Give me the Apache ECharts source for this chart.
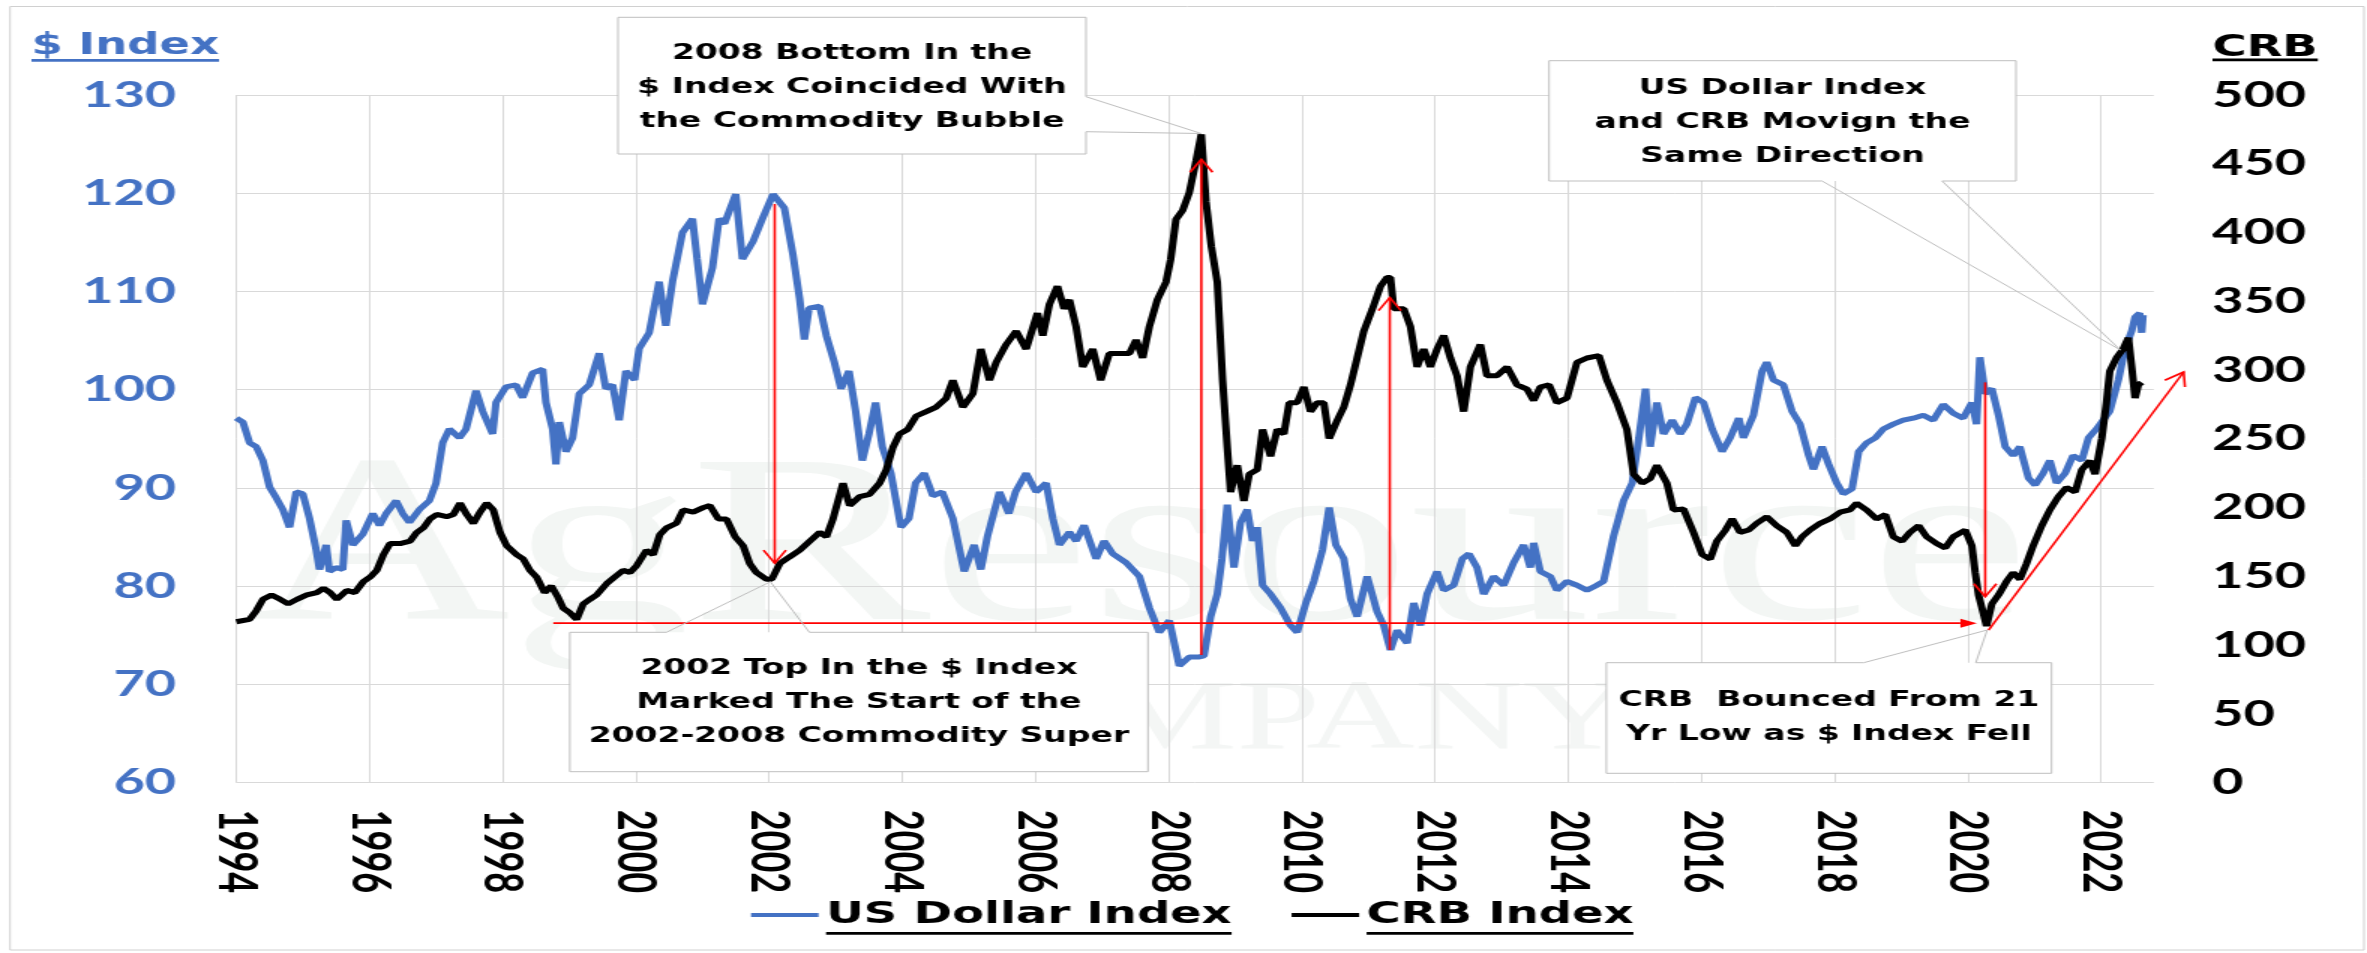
<!DOCTYPE html>
<html lang="en" style="background: #FFFFFF; height: 100%">
<head>
  <meta charset="utf-8" />
  <title>US Dollar Index vs CRB Index</title>
  <script src="https://cdn.jsdelivr.net/npm/echarts@6.0.0/dist/echarts.min.js"></script>
</head>
<body style="margin: 0; overflow: hidden; background: #FFFFFF">
<!-- the source picture is stretched sideways, so the chart is drawn narrow and widened -->
<div id="chart" style="width: 1578px; height: 953px; transform: scaleX(1.5); transform-origin: 0 0"></div>
<script>
// US Dollar Index (left axis)
const usdYears = [
  1994.00, 1994.10, 1994.20, 1994.30, 1994.40, 1994.50, 1994.60, 1994.70, 1994.80, 1994.90,
  1995.00, 1995.10, 1995.20, 1995.25, 1995.35, 1995.40, 1995.50, 1995.60, 1995.65, 1995.75,
  1995.90, 1996.05, 1996.15, 1996.25, 1996.40, 1996.50, 1996.60, 1996.75, 1996.90, 1997.00,
  1997.10, 1997.20, 1997.35, 1997.45, 1997.60, 1997.70, 1997.85, 1997.90, 1998.05, 1998.20,
  1998.30, 1998.45, 1998.60, 1998.65, 1998.75, 1998.80, 1998.85, 1998.95, 1999.05, 1999.15,
  1999.30, 1999.45, 1999.55, 1999.65, 1999.75, 1999.85, 1999.98, 2000.05, 2000.20, 2000.35,
  2000.45, 2000.55, 2000.70, 2000.85, 2000.92, 2001.00, 2001.15, 2001.25, 2001.33, 2001.50,
  2001.60, 2001.76, 2001.90, 2002.06, 2002.23, 2002.36, 2002.46, 2002.53, 2002.60, 2002.76,
  2002.86, 2002.98, 2003.08, 2003.20, 2003.30, 2003.40, 2003.50, 2003.60, 2003.70, 2003.83,
  2003.98, 2004.10, 2004.20, 2004.33, 2004.46, 2004.60, 2004.76, 2004.93, 2005.08, 2005.18,
  2005.28, 2005.46, 2005.60, 2005.70, 2005.86, 2006.01, 2006.16, 2006.26, 2006.36, 2006.51,
  2006.61, 2006.73, 2006.91, 2007.03, 2007.16, 2007.36, 2007.56, 2007.71, 2007.86, 2008.01,
  2008.16, 2008.31, 2008.46, 2008.53, 2008.63, 2008.73, 2008.80, 2008.88, 2008.98, 2009.08,
  2009.18, 2009.26, 2009.33, 2009.41, 2009.53, 2009.68, 2009.83, 2009.93, 2010.06, 2010.18,
  2010.31, 2010.41, 2010.51, 2010.63, 2010.73, 2010.83, 2010.98, 2011.13, 2011.23, 2011.33,
  2011.43, 2011.58, 2011.68, 2011.78, 2011.88, 2012.03, 2012.13, 2012.28, 2012.41, 2012.51,
  2012.63, 2012.73, 2012.88, 2013.03, 2013.18, 2013.33, 2013.43, 2013.48, 2013.58, 2013.73,
  2013.83, 2013.98, 2014.13, 2014.28, 2014.43, 2014.53, 2014.68, 2014.83, 2014.96, 2015.06,
  2015.16, 2015.23, 2015.33, 2015.43, 2015.56, 2015.68, 2015.78, 2015.91, 2016.03, 2016.16,
  2016.31, 2016.43, 2016.56, 2016.63, 2016.78, 2016.91, 2016.98, 2017.08, 2017.23, 2017.36,
  2017.48, 2017.61, 2017.68, 2017.81, 2017.91, 2018.03, 2018.13, 2018.26, 2018.36, 2018.48,
  2018.61, 2018.73, 2018.88, 2019.03, 2019.18, 2019.33, 2019.48, 2019.63, 2019.78, 2019.93,
  2020.06, 2020.13, 2020.18, 2020.26, 2020.36, 2020.46, 2020.56, 2020.68, 2020.78, 2020.91,
  2021.01, 2021.13, 2021.23, 2021.33, 2021.46, 2021.58, 2021.71, 2021.81, 2021.93, 2022.03,
  2022.13, 2022.26, 2022.36, 2022.46, 2022.51, 2022.58, 2022.61, 2022.63
];
const usdValues = [
  97.1, 96.7, 94.6, 94.2, 92.8, 90.1, 89.0, 87.8, 86.0, 89.6,
  89.4, 86.9, 83.7, 81.7, 84.2, 81.5, 81.9, 81.7, 86.7, 84.2,
  85.3, 87.4, 86.2, 87.4, 88.7, 87.4, 86.5, 87.8, 88.7, 90.5,
  94.6, 96.0, 95.1, 96.0, 99.9, 97.8, 95.5, 98.7, 100.3, 100.5,
  99.2, 101.7, 102.1, 98.7, 96.0, 92.4, 96.7, 93.7, 95.1, 99.6,
  100.5, 103.7, 100.1, 100.5, 96.9, 101.9, 101.0, 104.2, 105.8, 111.0,
  106.5, 111.0, 116.0, 117.4, 113.3, 108.7, 112.4, 117.4, 116.9, 119.9,
  113.3, 115.1, 117.4, 119.9, 118.5, 113.7, 109.2, 105.1, 108.3, 108.5,
  105.5, 102.8, 100.1, 101.9, 97.8, 92.8, 95.5, 98.7, 94.2, 91.5,
  86.0, 86.9, 90.5, 91.5, 89.2, 89.6, 86.9, 81.5, 84.2, 81.7,
  85.1, 89.6, 87.4, 89.6, 91.5, 89.6, 90.5, 86.9, 84.2, 85.5,
  84.6, 86.2, 82.8, 84.6, 83.3, 82.4, 81.0, 77.8, 75.3, 76.5,
  71.9, 72.8, 72.8, 72.9, 76.9, 79.2, 82.8, 88.3, 81.9, 86.5,
  87.8, 84.6, 86.0, 80.1, 79.2, 77.8, 76.0, 75.3, 78.3, 80.5,
  83.7, 88.0, 84.2, 82.8, 78.7, 76.9, 81.0, 77.4, 76.0, 73.5,
  75.5, 74.2, 78.3, 76.0, 79.2, 81.5, 79.6, 80.1, 82.8, 83.3,
  81.9, 79.2, 81.0, 80.1, 82.4, 84.2, 81.9, 84.4, 81.5, 81.0,
  79.6, 80.5, 80.1, 79.6, 80.1, 80.5, 85.1, 88.7, 90.5, 95.1,
  100.1, 94.2, 98.7, 95.5, 96.9, 95.5, 96.5, 99.2, 98.7, 96.0,
  93.7, 95.1, 97.1, 95.1, 97.4, 101.9, 102.8, 101.0, 100.5, 97.8,
  96.5, 93.3, 91.9, 94.2, 92.4, 90.5, 89.4, 89.9, 93.7, 94.6,
  95.1, 96.0, 96.5, 96.9, 97.1, 97.4, 96.9, 98.5, 97.6, 97.1,
  98.7, 96.5, 103.3, 99.6, 100.1, 97.4, 94.2, 93.3, 94.2, 91.0,
  90.3, 91.5, 92.8, 90.5, 91.5, 93.3, 92.8, 95.1, 96.0, 96.9,
  97.8, 101.0, 104.2, 106.0, 107.4, 107.8, 105.8, 107.6
];

// CRB Index (right axis)
const crbYears = [
  1994.00, 1994.20, 1994.30, 1994.40, 1994.53, 1994.66, 1994.78, 1994.91, 1995.06, 1995.21,
  1995.31, 1995.41, 1995.51, 1995.66, 1995.78, 1995.91, 1996.01, 1996.11, 1996.21, 1996.31,
  1996.46, 1996.61, 1996.71, 1996.81, 1996.91, 1997.01, 1997.16, 1997.26, 1997.36, 1997.46,
  1997.56, 1997.66, 1997.76, 1997.86, 1997.96, 1998.06, 1998.21, 1998.31, 1998.41, 1998.51,
  1998.63, 1998.73, 1998.83, 1998.91, 1999.01, 1999.11, 1999.21, 1999.31, 1999.41, 1999.56,
  1999.68, 1999.81, 1999.91, 2000.01, 2000.16, 2000.26, 2000.36, 2000.46, 2000.61, 2000.71,
  2000.86, 2001.01, 2001.11, 2001.24, 2001.36, 2001.49, 2001.61, 2001.71, 2001.81, 2001.96,
  2002.04, 2002.16, 2002.31, 2002.46, 2002.61, 2002.76, 2002.86, 2002.96, 2003.11, 2003.21,
  2003.36, 2003.51, 2003.66, 2003.76, 2003.86, 2003.96, 2004.08, 2004.21, 2004.36, 2004.51,
  2004.66, 2004.76, 2004.91, 2005.06, 2005.18, 2005.31, 2005.41, 2005.56, 2005.71, 2005.86,
  2006.03, 2006.11, 2006.21, 2006.33, 2006.43, 2006.51, 2006.61, 2006.71, 2006.86, 2006.98,
  2007.11, 2007.26, 2007.41, 2007.51, 2007.61, 2007.71, 2007.83, 2007.96, 2008.03, 2008.11,
  2008.21, 2008.31, 2008.41, 2008.49, 2008.56, 2008.64, 2008.73, 2008.81, 2008.88, 2008.93,
  2009.03, 2009.13, 2009.21, 2009.33, 2009.41, 2009.53, 2009.63, 2009.73, 2009.81, 2009.93,
  2010.03, 2010.13, 2010.23, 2010.33, 2010.41, 2010.53, 2010.63, 2010.73, 2010.83, 2010.93,
  2011.06, 2011.18, 2011.28, 2011.33, 2011.38, 2011.53, 2011.63, 2011.73, 2011.83, 2011.93,
  2012.03, 2012.13, 2012.23, 2012.33, 2012.43, 2012.53, 2012.68, 2012.78, 2012.93, 2013.08,
  2013.23, 2013.38, 2013.48, 2013.58, 2013.71, 2013.83, 2013.98, 2014.13, 2014.28, 2014.46,
  2014.58, 2014.73, 2014.88, 2014.98, 2015.11, 2015.23, 2015.33, 2015.48, 2015.58, 2015.73,
  2015.88, 2016.01, 2016.13, 2016.23, 2016.36, 2016.46, 2016.58, 2016.71, 2016.83, 2016.98,
  2017.13, 2017.28, 2017.41, 2017.51, 2017.63, 2017.78, 2017.93, 2018.08, 2018.23, 2018.33,
  2018.48, 2018.63, 2018.76, 2018.88, 2019.01, 2019.13, 2019.26, 2019.38, 2019.53, 2019.66,
  2019.78, 2019.96, 2020.06, 2020.11, 2020.16, 2020.23, 2020.28, 2020.36, 2020.46, 2020.58,
  2020.68, 2020.78, 2020.88, 2020.98, 2021.11, 2021.23, 2021.36, 2021.48, 2021.61, 2021.71,
  2021.83, 2021.91, 2022.01, 2022.08, 2022.13, 2022.23, 2022.33, 2022.41, 2022.46, 2022.51,
  2022.56, 2022.61
];
const crbValues = [
  117.0, 118.7, 125.0, 133.3, 136.5, 133.3, 130.0, 133.3, 136.5, 138.2,
  141.4, 138.2, 133.3, 139.8, 138.2, 146.3, 149.5, 154.4, 165.8, 173.9,
  173.9, 175.6, 182.0, 185.3, 191.8, 195.0, 193.4, 195.0, 203.2, 195.0,
  188.6, 196.7, 203.2, 198.3, 182.0, 172.3, 165.8, 162.6, 154.4, 149.5,
  138.2, 143.0, 134.9, 126.8, 123.5, 118.7, 130.0, 133.3, 136.5, 144.7,
  149.5, 154.4, 152.8, 157.7, 169.0, 165.8, 180.4, 185.3, 188.6, 198.3,
  196.7, 200.0, 201.6, 191.8, 191.8, 178.8, 172.3, 159.3, 152.8, 147.9,
  147.9, 159.3, 164.2, 169.0, 175.6, 182.0, 178.8, 191.8, 217.8, 201.6,
  208.0, 209.7, 217.8, 227.6, 243.8, 253.6, 256.8, 266.6, 269.8, 273.1,
  279.6, 292.6, 273.1, 282.8, 315.3, 292.6, 305.6, 318.6, 328.4, 315.3,
  341.4, 325.1, 347.9, 360.9, 344.6, 351.1, 331.6, 302.3, 315.3, 292.6,
  312.1, 312.1, 312.1, 321.9, 308.8, 331.6, 351.1, 364.1, 380.4, 409.6,
  416.1, 429.1, 451.9, 471.4, 422.6, 390.1, 364.1, 292.6, 243.8, 211.3,
  230.8, 204.8, 224.3, 227.6, 256.8, 237.3, 256.8, 253.6, 276.3, 276.3,
  287.7, 269.8, 276.3, 276.3, 250.3, 263.3, 273.1, 289.3, 308.8, 328.4,
  344.6, 360.9, 367.4, 367.4, 344.6, 344.6, 331.6, 302.3, 315.3, 302.3,
  315.3, 325.1, 308.8, 295.8, 269.8, 302.3, 318.6, 295.8, 295.8, 302.3,
  289.3, 286.1, 277.9, 287.7, 289.3, 276.3, 279.6, 305.6, 308.8, 310.5,
  292.6, 276.3, 256.8, 224.3, 217.8, 221.1, 230.8, 217.8, 198.3, 199.0,
  182.0, 165.8, 162.6, 175.6, 183.7, 191.8, 182.0, 183.7, 188.6, 193.4,
  186.9, 182.0, 172.3, 178.8, 183.7, 188.6, 191.8, 196.7, 198.3, 203.2,
  198.3, 191.8, 195.0, 178.8, 175.6, 182.0, 186.9, 178.8, 173.9, 170.7,
  178.8, 183.7, 172.3, 152.8, 136.5, 123.5, 113.8, 130.0, 136.5, 146.3,
  152.8, 147.9, 159.3, 172.3, 186.9, 198.3, 208.0, 214.6, 211.3, 227.6,
  234.1, 224.3, 250.3, 276.3, 299.1, 308.8, 315.3, 323.5, 302.3, 279.6,
  289.3, 291.0
];

// callout notes and the CRB points they point at
const noteTexts = [
  '2008 Bottom In the\n$ Index Coincided With\nthe Commodity Bubble',
  'US Dollar Index\nand CRB Movign the\nSame Direction',
  '2002 Top In the $ Index\nMarked The Start of the\n2002-2008 Commodity Super',
  'CRB  Bounced From 21\nYr Low as $ Index Fell'
];
const noteYears = [2008.49, 2022.29, 2002.02, 2020.29];
const noteCrb = [472.0, 314.6, 146.1, 111.0];

// red arrows: start and end in data space (axis 0 = $ index, 1 = CRB)
const arrowFromYears = [2002.085, 2008.49, 2011.32, 2020.26, 1998.76, 2020.31];
const arrowFromValues = [118.9, 73.0, 73.5, 100.75, 116.0, 110.9];
const arrowFromAxis = [0, 0, 0, 0, 1, 1];
const arrowToYears = [2002.085, 2008.49, 2011.32, 2020.26, 2020.135, 2023.24];
const arrowToValues = [159.6, 453.3, 352.7, 135.2, 116.0, 298.6];
const arrowToAxis = [1, 1, 1, 1, 1, 1];

const BLUE = '#4472C4';
const NUM_FONT = 'Lato';
const TXT_FONT = '"DejaVu Sans"';

const chart = echarts.init(document.getElementById('chart'));

const usdData = usdYears.map((y, i) => [y, usdValues[i]]);
const crbData = crbYears.map((y, i) => [y, crbValues[i]]);

chart.setOption({
  animation: false,
  backgroundColor: '#FFFFFF',
  grid: { left: 157.5, right: 142.2, top: 95, bottom: 170.3, outerBoundsMode: 'none' },
  legend: {
    left: 500.7,
    top: 895,
    padding: 0,
    itemGap: 40,
    itemWidth: 45,
    itemHeight: 4,
    icon: 'rect',
    textStyle: { fontFamily: TXT_FONT, fontWeight: 'bold', fontSize: 31, color: '#000', lineHeight: 40 },
    data: ['US Dollar Index', 'CRB Index']
  },
  xAxis: {
    type: 'value',
    min: 1994,
    max: 2022.79,
    interval: 2,
    axisLine: { show: false },
    axisTick: { show: false },
    splitLine: { show: true, showMaxLine: false, lineStyle: { color: '#D9D9D9', width: 1 } },
    axisLabel: {
      rotate: -90,
      margin: 27,
      color: '#000',
      fontFamily: NUM_FONT,
      fontWeight: 'bold',
      fontSize: 36,
      showMaxLabel: false,
      formatter: v => (Math.abs(v - Math.round(v)) < 1e-6 ? String(Math.round(v)) : '')
    }
  },
  yAxis: [
    {
      type: 'value',
      position: 'left',
      min: 60,
      max: 130,
      interval: 10,
      name: '$ Index',
      nameLocation: 'end',
      nameGap: 34,
      nameMoveOverlap: false,
      nameTextStyle: {
        color: BLUE, fontFamily: TXT_FONT, fontWeight: 'bold', fontSize: 30, lineHeight: 30,
        align: 'right', verticalAlign: 'bottom', padding: [0, 11.5, 0, 0]
      },
      axisLine: { show: false },
      axisTick: { show: false },
      splitLine: { show: true, lineStyle: { color: '#D9D9D9', width: 1 } },
      axisLabel: { color: BLUE, fontFamily: NUM_FONT, fontWeight: 'bold', fontSize: 36, margin: 40 }
    },
    {
      type: 'value',
      position: 'right',
      min: 0,
      max: 500,
      interval: 50,
      name: 'CRB',
      nameLocation: 'end',
      nameGap: 32,
      nameMoveOverlap: false,
      nameTextStyle: {
        color: '#000', fontFamily: TXT_FONT, fontWeight: 'bold', fontSize: 31, lineHeight: 31,
        align: 'left', verticalAlign: 'bottom', padding: [0, 0, 0, 39.2]
      },
      axisLine: { show: false },
      axisTick: { show: false },
      splitLine: { show: false },
      axisLabel: { color: '#000', fontFamily: NUM_FONT, fontWeight: 'bold', fontSize: 36, margin: 39 }
    }
  ],
  series: [
    {
      name: 'US Dollar Index',
      type: 'line',
      yAxisIndex: 0,
      data: usdData,
      symbol: 'none',
      color: BLUE,
      lineStyle: { color: BLUE, width: 5 },
      z: 2
    },
    {
      name: 'CRB Index',
      type: 'line',
      yAxisIndex: 1,
      data: crbData,
      symbol: 'none',
      color: '#000',
      lineStyle: { color: '#000', width: 5 },
      z: 3
    }
  ]
});

// ---- annotations, placed through the chart's own scales ----
const toPx = (year, value, axis) => chart.convertToPixel({ xAxisIndex: 0, yAxisIndex: axis }, [year, value]);

const measureCtx = document.createElement('canvas').getContext('2d');
function textWidth(text, font) {
  measureCtx.font = font;
  return measureCtx.measureText(text).width;
}

const graphics = [];

// faint company watermark behind the plot
graphics.push({
  type: 'text', z: -5, silent: true,
  style: {
    text: 'AgResource', x: 760, y: 676, fill: '#F3F6F4',
    font: '240px "Liberation Serif", serif',
    align: 'center', verticalAlign: 'bottom', textAlign: 'center', textVerticalAlign: 'bottom'
  }
});
graphics.push({
  type: 'text', z: -5, silent: true,
  style: {
    text: 'COMPANY', x: 842, y: 722, fill: '#F4F6F5',
    font: '100px "Liberation Serif", serif',
    align: 'center', verticalAlign: 'middle', textAlign: 'center', textVerticalAlign: 'middle'
  }
});

// outer frame
graphics.push({
  type: 'rect', z: 1, silent: true,
  shape: { x: 6.7, y: 6.5, width: 1569.3, height: 943.5 },
  style: { fill: null, stroke: '#D0D0D0', lineWidth: 1 }
});

// underlines of the axis titles and legend texts
const usdTitleW = textWidth('$ Index', 'bold 30px ' + TXT_FONT);
graphics.push({ type: 'rect', z: 10, shape: { x: 146 - usdTitleW, y: 59, width: usdTitleW, height: 2.7 }, style: { fill: BLUE } });
const crbTitleW = textWidth('CRB', 'bold 31px ' + TXT_FONT);
graphics.push({ type: 'rect', z: 10, shape: { x: 1475, y: 58.5, width: crbTitleW, height: 2.7 }, style: { fill: '#000' } });

const legendFont = 'bold 31px ' + TXT_FONT;
const leg1X = 500.7 + 45 + 5;
const leg1W = textWidth('US Dollar Index', legendFont);
const leg2X = leg1X + leg1W + 40 + 45 + 5;
const leg2W = textWidth('CRB Index', legendFont);
graphics.push({ type: 'rect', z: 10, shape: { x: leg1X, y: 932, width: leg1W, height: 2.8 }, style: { fill: '#000' } });
graphics.push({ type: 'rect', z: 10, shape: { x: leg2X, y: 932, width: leg2W, height: 2.8 }, style: { fill: '#000' } });

// red arrows
const ARROW_HEADS = ['open', 'open', 'open', 'open', 'solid', 'open'];
arrowFromYears.forEach((fy, i) => {
  const p0 = toPx(fy, arrowFromValues[i], arrowFromAxis[i]);
  const p1 = toPx(arrowToYears[i], arrowToValues[i], arrowToAxis[i]);
  const dx = p1[0] - p0[0];
  const dy = p1[1] - p0[1];
  const len = Math.hypot(dx, dy);
  const ux = dx / len;
  const uy = dy / len;
  const solid = ARROW_HEADS[i] === 'solid';
  const headLen = solid ? 11 : 13;
  const headHalf = solid ? 4.5 : 7.5;
  const base = [p1[0] - ux * headLen, p1[1] - uy * headLen];
  const left = [base[0] - uy * headHalf, base[1] + ux * headHalf];
  const right = [base[0] + uy * headHalf, base[1] - ux * headHalf];
  graphics.push({
    type: 'polyline', z: 50, silent: true,
    shape: { points: [p0, solid ? base : p1] },
    style: { stroke: '#FF0000', lineWidth: 1.6, fill: null }
  });
  if (solid) {
    graphics.push({ type: 'polygon', z: 50, silent: true, shape: { points: [left, p1, right] }, style: { fill: '#FF0000' } });
  } else {
    graphics.push({
      type: 'polyline', z: 50, silent: true,
      shape: { points: [left, p1, right] },
      style: { stroke: '#FF0000', lineWidth: 1.6, fill: null }
    });
  }
});

// callout boxes: rectangle, outline with pointer, centred text
const boxes = [
  { l: 412, t: 17.3, r: 724, b: 154, side: 'right', w1: 96.7, w2: 131.7, ty: 87 },
  { l: 1032.7, t: 60.7, r: 1344, b: 181, side: 'bottom', w1: 1214.7, w2: 1294.7, ty: 122.7 },
  { l: 379.9, t: 632.3, r: 765.3, b: 771.7, side: 'top', w1: 444.3, w2: 539.6, ty: 702.5 },
  { l: 1070.9, t: 662.7, r: 1367.7, b: 773.3, side: 'top', w1: 1242.5, w2: 1317.2, ty: 717.5 }
];
boxes.forEach((bx, i) => {
  const tip = toPx(noteYears[i], noteCrb[i], 1);
  let pts;
  if (bx.side === 'right') {
    pts = [[bx.l, bx.t], [bx.r, bx.t], [bx.r, bx.w1], tip, [bx.r, bx.w2], [bx.r, bx.b], [bx.l, bx.b], [bx.l, bx.t]];
  } else if (bx.side === 'bottom') {
    pts = [[bx.l, bx.t], [bx.r, bx.t], [bx.r, bx.b], [bx.w2, bx.b], tip, [bx.w1, bx.b], [bx.l, bx.b], [bx.l, bx.t]];
  } else {
    pts = [[bx.l, bx.t], [bx.w1, bx.t], tip, [bx.w2, bx.t], [bx.r, bx.t], [bx.r, bx.b], [bx.l, bx.b], [bx.l, bx.t]];
  }
  graphics.push({
    type: 'rect', z: 100, silent: true,
    shape: { x: bx.l, y: bx.t, width: bx.r - bx.l, height: bx.b - bx.t },
    style: { fill: '#FFFFFF' }
  });
  graphics.push({
    type: 'polyline', z: 101, silent: true,
    shape: { points: pts },
    style: { stroke: '#BFBFBF', lineWidth: 1, fill: null }
  });
  graphics.push({
    type: 'text', z: 102, silent: true,
    style: {
      text: noteTexts[i], x: (bx.l + bx.r) / 2, y: bx.ty, fill: '#000',
      font: 'bold 22px ' + TXT_FONT, lineHeight: 34,
      align: 'center', verticalAlign: 'middle', textAlign: 'center', textVerticalAlign: 'middle'
    }
  });
});

chart.setOption({ graphic: { elements: graphics } });
</script>
</body>
</html>
